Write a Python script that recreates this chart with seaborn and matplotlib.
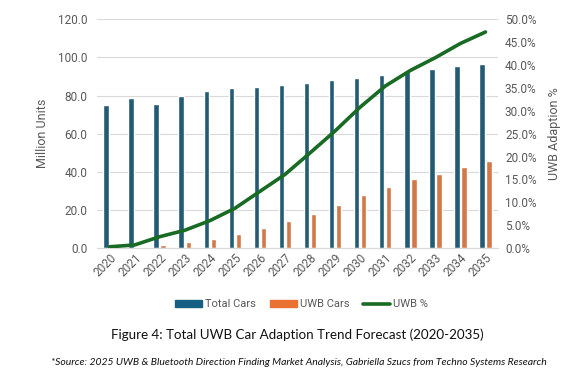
import numpy as np
import pandas as pd
import matplotlib.pyplot as plt
import seaborn as sns
from matplotlib.ticker import FuncFormatter
from matplotlib.patches import Patch
from matplotlib.lines import Line2D

# values
years = ['2020', '2021', '2022', '2023', '2024', '2025', '2026', '2027',
         '2028', '2029', '2030', '2031', '2032', '2033', '2034', '2035']
total_cars = [74.8, 78.8, 75.3, 79.8, 82.3, 83.7, 84.7, 85.6,
              86.6, 88.0, 89.3, 90.7, 92.8, 93.8, 95.2, 96.6]
uwb_cars = [0.2, 0.5, 1.9, 3.1, 4.9, 7.3, 10.5, 14.0,
            18.0, 22.7, 27.6, 32.3, 36.0, 39.1, 42.6, 45.6]
uwb_pct = [0.3, 0.7, 2.5, 3.9, 6.0, 8.7, 12.4, 16.1,
           20.8, 25.6, 30.8, 35.4, 38.8, 41.6, 44.7, 47.2]

c_total = '#156082'
c_uwb = '#E97132'
c_line = '#196B24'
grey = '#595959'

sns.set_style('white')
plt.rcParams['font.family'] = ['Roboto', 'DejaVu Sans']

df = pd.DataFrame({'Year': years, 'Total Cars': total_cars, 'UWB Cars': uwb_cars})
long = df.melt(id_vars='Year', var_name='Series', value_name='Units')

fig = plt.figure(figsize=(5.88, 3.76), dpi=100)
ax = fig.add_axes([0.165, 0.34, 0.682, 0.609])

sns.barplot(data=long, x='Year', y='Units', hue='Series',
            palette=[c_total, c_uwb], width=0.56, gap=0.22,
            ax=ax, legend=False, zorder=2)

ax.set_ylim(0, 120)
ax.set_yticks(np.arange(0, 121, 20))
ax.yaxis.set_major_formatter(FuncFormatter(lambda v, p: f'{v:.1f}'))
ax.set_xlim(-0.5, len(years) - 0.5)
ax.grid(axis='y', color='#d9d9d9', lw=0.8, zorder=0)
ax.set_axisbelow(True)
for s in ['top', 'right', 'left']:
    ax.spines[s].set_visible(False)
ax.spines['bottom'].set_color('#d9d9d9')
ax.set_xlabel('')
ax.set_ylabel('Million Units', fontsize=9, color=grey, labelpad=6)
ax.tick_params(axis='y', length=0, labelsize=8.5, labelcolor=grey, pad=7)
ax.tick_params(axis='x', length=0, labelsize=8.5, labelcolor=grey, pad=2)
plt.setp(ax.get_xticklabels(), rotation=45, ha='right', rotation_mode='anchor')

ax2 = ax.twinx()
sns.lineplot(x=np.arange(len(years)), y=uwb_pct, color=c_line, lw=2.6, ax=ax2)
ax2.set_ylim(0, 50)
ax2.set_yticks(np.arange(0, 51, 5))
ax2.yaxis.set_major_formatter(FuncFormatter(lambda v, p: f'{v:.1f}%'))
for s in ['top', 'right', 'left', 'bottom']:
    ax2.spines[s].set_visible(False)
ax2.set_ylabel('UWB Adaption %', fontsize=9, color=grey, labelpad=8)
ax2.tick_params(axis='y', length=0, labelsize=8.5, labelcolor=grey, pad=5)

handles = [Patch(color=c_total), Patch(color=c_uwb), Line2D([], [], color=c_line, lw=2.6)]
fig.legend(handles, ['Total Cars', 'UWB Cars', 'UWB %'], loc='center',
           bbox_to_anchor=(0.513, 0.191), ncol=3, frameon=False,
           fontsize=8, labelcolor=grey, handlelength=2.4, handleheight=0.55,
           handletextpad=0.25, columnspacing=1.3)

fig.text(0.505, 0.109, 'Figure 4: Total UWB Car Adaption Trend Forecast (2020-2035)',
         ha='center', va='center', fontsize=9.6, family=['Lato', 'DejaVu Sans'], color='#111111')
fig.text(0.508, 0.037,
         '*Source: 2025 UWB & Bluetooth Direction Finding Market Analysis, Gabriella Szucs from Techno Systems Research',
         ha='center', va='center', fontsize=7.5, style='italic',
         family=['Lato', 'DejaVu Sans'], color='#111111')

fig.savefig('out.png', dpi=100)
